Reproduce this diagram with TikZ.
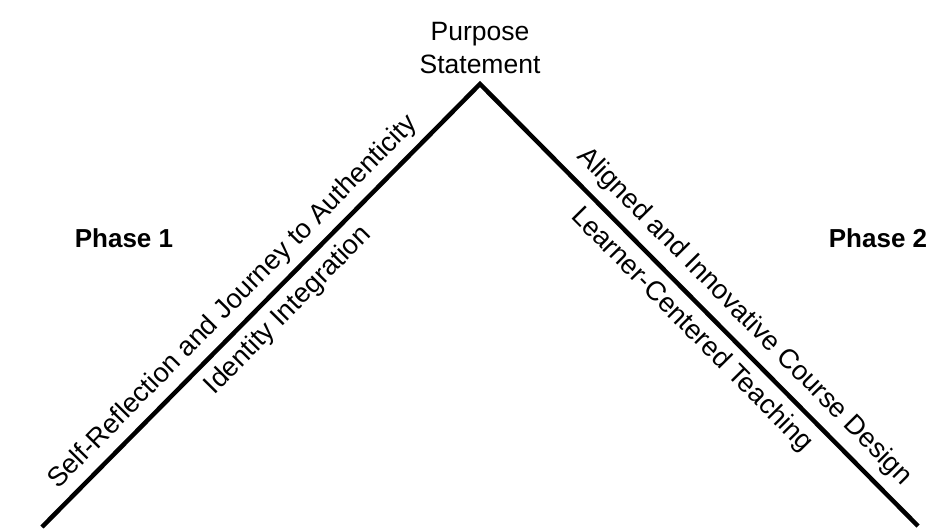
\documentclass[tikz,border=0pt]{standalone}
\usepackage{fontspec}
\setmainfont{Liberation Sans}
\usetikzlibrary{calc}
\tikzset{
  vline/.style={line width=4.5pt, line join=miter, line cap=butt, black},
  lbl/.style={font=\fontsize{27.2}{33}\selectfont, inner sep=0pt, anchor=base},
  phase/.style={font=\fontsize{26}{33}\selectfont\bfseries, inner sep=0pt, anchor=base},
}
\begin{document}
\begin{tikzpicture}[x=1pt,y=-1pt]
\useasboundingbox (0,0) rectangle (931,531);
\coordinate (A) at (42,527);
\coordinate (P) at (480,84);
\coordinate (B) at (918,526);
\draw[vline] (A) -- (P) -- (B);
% Purpose statement
\node[lbl, font=\fontsize{26.5}{33}\selectfont, align=center, anchor=base] (purpose) at (480,73) {Purpose\\Statement};
% phases
\node[phase] (ph1) at (124,247) {Phase 1};
\node[phase] (ph2) at (878,247) {Phase 2};
% left labels
\coordinate (m1) at ($(A)!0.472!(P)$);
\coordinate (m1a) at ($(m1)!15pt!90:(P)$);
\node[lbl, rotate=45.4] (self) at (m1a) {Self-Reflection and Journey to Authenticity};
\coordinate (m2) at ($(A)!0.525!(P)$);
\coordinate (m2b) at ($(m2)!30pt!-90:(P)$);
\node[lbl, rotate=45.4] (ident) at (m2b) {Identity Integration};
% right labels
\coordinate (m3) at ($(P)!0.565!(B)$);
\coordinate (m3a) at ($(m3)!17pt!90:(B)$);
\node[lbl, rotate=-45.3] (align) at (m3a) {Aligned and Innovative Course Design};
\coordinate (m4) at ($(P)!0.52!(B)$);
\coordinate (m4b) at ($(m4)!30pt!-90:(B)$);
\node[lbl, rotate=-45.3] (learn) at (m4b) {Learner-Centered Teaching};
\end{tikzpicture}
\end{document}
